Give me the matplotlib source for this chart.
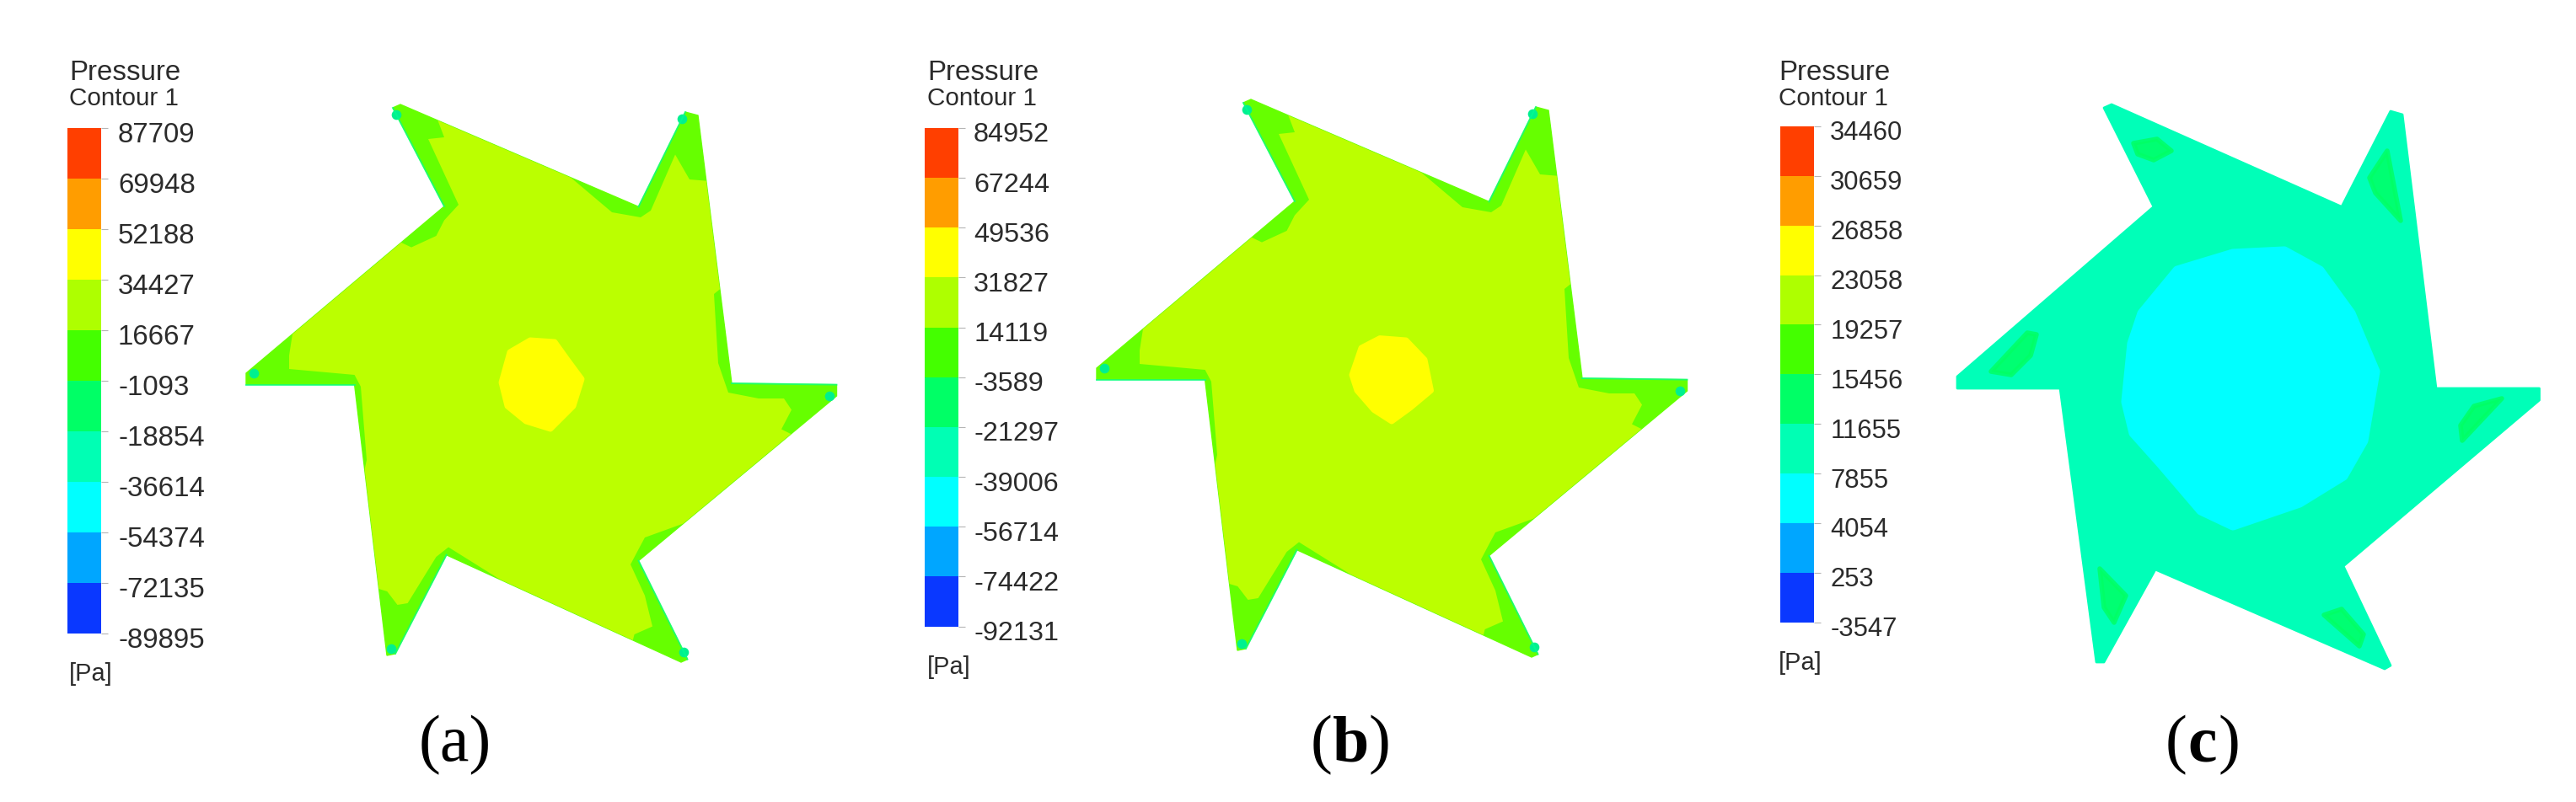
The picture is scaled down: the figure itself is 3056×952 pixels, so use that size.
import matplotlib
matplotlib.use("Agg")
import matplotlib.pyplot as plt
from matplotlib.transforms import ScaledTranslation

plt.rcParams['font.family'] = ['Liberation Sans', 'DejaVu Sans']

W, H = 3056, 952

# contour levels read from the legends
levels_a = [87709, 69948, 52188, 34427, 16667, -1093, -18854, -36614, -54374, -72135, -89895]
levels_b = [84952, 67244, 49536, 31827, 14119, -3589, -21297, -39006, -56714, -74422, -92131]
levels_c = [34460, 30659, 26858, 23058, 19257, 15456, 11655, 7855, 4054, 253, -3547]
band_colors = ['#FF3F00', '#FF9D00', '#FFFF00', '#AEFF00', '#44FF00',
               '#00FF66', '#00FFB4', '#00FFFF', '#00A6FF', '#0A38FF']

# outline of the rotor for (a) and (b)
star_x = [527, 466, 475, 757.5, 813, 828, 868, 992.5, 992.5, 757.5, 815.6, 808, 529.6, 469, 459, 420.6, 292, 292]
star_y = [245, 128, 124, 245.4, 133, 137, 455, 456.6, 470, 665.6, 782.6, 786, 658.7, 776, 778, 456.6, 456.6, 443]

# the lime zone inside the green rim, clipped to the outline when drawn
lime_x = [508, 527, 517.5, 668, 726, 760, 772, 801, 818, 842, 858, 847, 852, 864, 900, 930, 939, 927, 942,
          823, 765, 757.5, 748, 765, 774, 752.6, 750, 619, 532, 517.5, 483.6, 471.5, 459.3, 446,
          430, 435, 428, 420.6, 343, 343, 348, 472, 488, 517.5, 527, 544]
lime_y = [165, 163, 138, 203, 252, 258, 250, 183.5, 213, 215, 340, 349, 431, 466, 473, 473, 486.5, 509.5, 517,
          617, 638, 652, 670, 707, 743.6, 753, 763, 704, 649.5, 661, 716, 718, 702, 698,
          569, 546, 459, 445, 438, 422, 390, 286, 293.6, 280, 261.5, 243]

core_a_x = [595, 605, 629, 658, 673, 690, 680, 653, 624, 602]
core_a_y = [454, 418, 404, 406, 427, 450, 482, 509, 500, 482]
core_b_x = [1604, 1615, 1637, 1668, 1690, 1697.5, 1673, 1651, 1630, 1610]
core_b_y = [445, 413, 401.6, 404, 427, 463.5, 484, 500, 486.5, 463.5]

# panel (c)
star_c_x = [2555, 2496, 2505, 2778, 2836, 2850, 2890, 3012.5, 3012.5, 2780, 2836, 2829, 2557, 2496, 2487, 2444, 2322, 2322]
star_c_y = [245.4, 128, 124, 245.4, 132, 136, 461, 461, 475, 672, 790, 794, 676, 786, 786, 461, 461, 447]
core_c_x = [2522, 2529, 2541, 2583, 2649, 2710, 2752, 2789, 2818, 2804, 2780, 2728, 2649, 2611, 2564, 2531]
core_c_y = [477, 408, 372, 321, 301, 298, 321, 372, 441, 523, 565, 597, 624, 606, 551, 514]
patches_c = [
    ([2531, 2559, 2576, 2555, 2536], [170, 165, 179, 190, 183]),
    ([2832, 2848, 2818, 2811], [179, 262, 229, 211]),
    ([2968, 2921, 2919, 2935], [473, 523, 505, 482]),
    ([2757, 2778, 2804, 2799], [730, 723, 753, 767]),
    ([2491, 2522, 2508, 2496], [675, 707, 739, 721]),
    ([2362, 2405, 2416, 2409, 2386], [441, 395, 397, 422, 445]),
]

fig = plt.figure(figsize=(W / 100, H / 100), dpi=100, facecolor='white')
ax = fig.add_axes([0, 0, 1, 1])
ax.set_xlim(0, W)
ax.set_ylim(H, 0)
ax.axis('off')


def draw_legend(levels, left, top, bottom, text_x, label_gap, px):
    cax = fig.add_axes([left / W, 1 - bottom / H, 40 / W, (bottom - top) / H])
    for hi, lo, col in zip(levels[:-1], levels[1:], band_colors):
        cax.bar(0, hi - lo, bottom=lo, width=1, color=col, linewidth=0)
    cax.set_xlim(-0.5, 0.5)
    cax.set_ylim(levels[-1], levels[0])
    cax.set_xticks([])
    cax.yaxis.tick_right()
    cax.set_yticks(levels)
    cax.set_yticklabels([str(v) for v in levels], fontsize=px * 0.72, color='#2b2b2b')
    cax.tick_params(axis='y', length=5.8, width=0.8, color='#b5b5b5', pad=label_gap)
    shift = ScaledTranslation(0, -5 / 100, fig.dpi_scale_trans)
    for lab in cax.get_yticklabels():
        lab.set_transform(lab.get_transform() + shift)
    for sp in cax.spines.values():
        sp.set_visible(False)
    ax.text(text_x, 95, 'Pressure', fontsize=33 * 0.72, color='#2b2b2b', va='baseline')
    ax.text(text_x, 125, 'Contour 1', fontsize=29.6 * 0.72, color='#2b2b2b', va='baseline')
    ax.text(text_x, bottom + 56, '[Pa]', fontsize=29 * 0.72, color='#2b2b2b', va='baseline')


def draw_rotor(dx, dy, core_x, core_y):
    xs = [v + dx for v in star_x]
    ys = [v + dy for v in star_y]
    outline = ax.fill(xs, ys, color='#66FF00', linewidth=1)[0]
    lime = ax.fill([v + dx for v in lime_x], [v + dy for v in lime_y], color='#BBFF00', linewidth=0)[0]
    lime.set_clip_path(outline)
    ax.fill(core_x, core_y, color='#FFFF00', linewidth=5, joinstyle='round')
    # thin cooler line along the short edge of every blade
    for i in [0, 3, 6, 9, 12, 15]:
        ax.plot([xs[i], xs[i + 1]], [ys[i], ys[i + 1]], color='#00FF90', lw=1.4, alpha=0.7)
    cx, cy = 640 + dx, 455 + dy
    tips = [1, 4, 8, 10, 14, 17]
    ax.scatter([xs[i] + (cx - xs[i]) * 0.025 for i in tips], [ys[i] + (cy - ys[i]) * 0.025 for i in tips],
               s=70, color='#00F090', linewidth=0)


draw_legend(levels_a, 80, 152, 752, 82, 8.6, 33)
draw_legend(levels_b, 1097, 152, 743.6, 1100, 7.2, 32.4)
draw_legend(levels_c, 2112, 150, 738.6, 2110, 8, 31)

draw_rotor(0, 0, core_a_x, core_a_y)
draw_rotor(1009, -6, core_b_x, core_b_y)

ax.fill(star_c_x, star_c_y, color='#00FFB8', linewidth=2, joinstyle='round')
ax.fill(core_c_x, core_c_y, color='#00FFFF', linewidth=8, joinstyle='round')
for px_, py_ in patches_c:
    ax.fill(px_, py_, color='#00FF66', linewidth=4, alpha=0.85, joinstyle='round')

ax.text(540, 903, '(a)', fontsize=56, family='Liberation Serif', ha='center', va='baseline', color='black')
ax.text(1581, 903, '(', fontsize=56, family='Liberation Serif', ha='right', va='baseline', color='black')
ax.text(1581, 903, 'b', fontsize=56, family='Liberation Serif', weight='bold', ha='left', va='baseline', color='black')
ax.text(1623, 903, ')', fontsize=56, family='Liberation Serif', ha='left', va='baseline', color='black')
ax.text(2595, 903, '(', fontsize=56, family='Liberation Serif', ha='right', va='baseline', color='black')
ax.text(2595, 903, 'c', fontsize=56, family='Liberation Serif', weight='bold', ha='left', va='baseline', color='black')
ax.text(2632, 903, ')', fontsize=56, family='Liberation Serif', ha='left', va='baseline', color='black')

fig.savefig('out.png', dpi=100)
